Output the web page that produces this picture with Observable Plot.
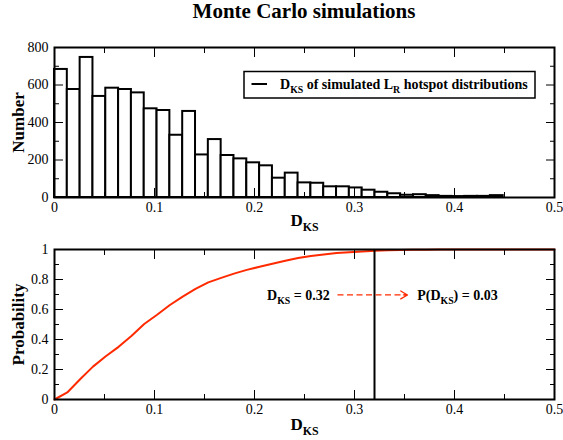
<!DOCTYPE html>
<html><head><meta charset="utf-8">
<script src="https://cdn.jsdelivr.net/npm/d3@7"></script>
<script src="https://cdn.jsdelivr.net/npm/@observablehq/plot@0.6"></script>
<style>
body{margin:0;background:#fff;}
#wrap{position:relative;width:563px;height:440px;font-family:"Liberation Serif","Times New Roman",serif;color:#000;background:#fff;overflow:hidden;}
#title{position:absolute;left:54px;width:500px;top:1px;text-align:center;font-size:21px;font-weight:bold;line-height:21px;}
#top,#bot{position:absolute;left:0;}
#top{top:30px;z-index:2;}
#bot{top:230px;z-index:1;}
svg{display:block;}
</style>
</head><body>
<div id="wrap">
  <div id="title">Monte Carlo simulations</div>
  <div id="top"></div>
  <div id="bot"></div>
</div>
<script>
// ---- data ----
const binWidth = 0.01282;
const counts = [683,576,747,539,583,576,558,473,464,332,459,227,309,224,206,185,169,103,130,78,76,57,57,51,39,28,20,12,15,10,6,5,6,6,10];
const cdfX = [0,0.0128,0.0256,0.0385,0.0513,0.0641,0.0769,0.0897,0.1026,0.1154,0.1282,0.141,0.1538,0.1667,0.1795,0.1923,0.2051,0.2179,0.2308,0.2436,0.2564,0.2692,0.2821,0.2949,0.3077,0.3205,0.3333,0.3462,0.359,0.3718,0.3846,0.4,0.45,0.5];
const cdfY = [0,0.047,0.135,0.219,0.288,0.351,0.424,0.503,0.565,0.63,0.686,0.737,0.781,0.811,0.839,0.864,0.885,0.905,0.925,0.943,0.957,0.967,0.977,0.982,0.987,0.992,0.995,0.997,0.998,0.999,1,1,1,1];
const dKs = 0.32;
const pValue = 0.03;
const xMajor = [0,0.1,0.2,0.3,0.4,0.5];
const xMinor = [0.05,0.15,0.25,0.35,0.45];
const yTopMajor = [0,200,400,600,800];
const yTopMinor = [100,300,500,700];
const yBotMajor = [0,0.2,0.4,0.6,0.8,1];
const yBotMinor = [0.1,0.3,0.5,0.7,0.9];
const legendLabel = "D_{KS} of simulated L_{R} hotspot distributions";
const xLabel = "D_{KS}";
const yTopLabel = "Number";
const yBotLabel = "Probability";
const annLeft = `D_{KS} = ${dKs}`;
const annRight = `P(D_{KS}) = ${pValue}`;

const RED = "#ff2a00";
const FONT = "'Liberation Serif','Times New Roman',serif";

const bars = counts.map((c, i) => ({x1: i * binWidth, x2: (i + 1) * binWidth, y: c}));
const curve = cdfX.map((x, i) => ({x, y: cdfY[i]}));

function frameTicks(yMaj, yMin) {
  const m = [];
  for (const a of ["bottom", "top"]) {
    m.push(Plot.axisX({ticks: xMajor, anchor: a, tickSize: -9, fill: "none", label: null}));
    m.push(Plot.axisX({ticks: xMinor, anchor: a, tickSize: -5, fill: "none", label: null}));
  }
  for (const a of ["left", "right"]) {
    m.push(Plot.axisY({ticks: yMaj, anchor: a, tickSize: -9, fill: "none", label: null}));
    m.push(Plot.axisY({ticks: yMin, anchor: a, tickSize: -5, fill: "none", label: null}));
  }
  m.push(Plot.axisX({ticks: xMajor, anchor: "bottom", tickSize: 0, tickPadding: 5, tickFormat: d => String(d), label: null, fontSize: 14}));
  m.push(Plot.axisY({ticks: yMaj, anchor: "left", tickSize: 0, tickPadding: 6, tickFormat: d => String(d), label: null, fontSize: 14}));
  return m;
}

function subscripts(svg) {
  d3.select(svg).selectAll("text").each(function () {
    const s = this.textContent;
    if (!s.includes("_{")) return;
    const el = d3.select(this);
    el.selectAll("*").remove();
    el.text(null);
    const parts = s.split(/(_\{[^}]*\})/);
    let low = false;
    for (const p of parts) {
      if (!p) continue;
      const m = p.match(/^_\{(.*)\}$/);
      if (m) {
        el.append("tspan").attr("dy", "0.43em").attr("font-size", "0.7em").text(m[1]);
        low = true;
      } else {
        const t = el.append("tspan").text(p);
        if (low) { t.attr("dy", "-0.3em"); low = false; }
      }
    }
  });
}

const style = {fontFamily: FONT, fontSize: "14px", color: "black", background: "transparent", overflow: "visible"};

const topPlot = Plot.plot({
  width: 563, height: 200,
  marginLeft: 54, marginRight: 9, marginTop: 17, marginBottom: 33,
  style,
  x: {domain: [0, 0.5]},
  y: {domain: [0, 800]},
  marks: [
    Plot.rectY(bars, {x1: "x1", x2: "x2", y: "y", fill: "white", stroke: "black", strokeWidth: 2, inset: 0}),
    ...frameTicks(yTopMajor, yTopMinor),
    Plot.text([xLabel], {text: d => d, frameAnchor: "bottom", dy: 28, textAnchor: "middle", fontWeight: "bold", fontSize: 17}),
    Plot.text([yTopLabel], {text: d => d, frameAnchor: "left", rotate: -90, dx: -36, textAnchor: "middle", fontWeight: "bold", fontSize: 17}),
    Plot.frame({stroke: "black", strokeWidth: 2})
  ]
});

// legend box (decoration)
{
  const g = d3.select(topPlot).append("g");
  g.append("rect").attr("x", 244).attr("y", 41.5).attr("width", 291).attr("height", 26.5)
    .attr("fill", "white").attr("stroke", "black").attr("stroke-width", 1.5);
  g.append("line").attr("x1", 251.5).attr("x2", 267).attr("y1", 54).attr("y2", 54)
    .attr("stroke", "black").attr("stroke-width", 2);
  g.append("text").attr("x", 280).attr("y", 58.5).attr("font-size", 14).attr("font-weight", "bold")
    .attr("text-anchor", "start").attr("fill", "black").text(legendLabel);
}
subscripts(topPlot);
document.getElementById("top").append(topPlot);

const aStart = dKs - 0.037, aEnd = dKs + 0.033;
const botPlot = Plot.plot({
  width: 563, height: 210,
  marginLeft: 54, marginRight: 9, marginTop: 19, marginBottom: 41,
  style,
  x: {domain: [0, 0.5]},
  y: {domain: [0, 1]},
  marks: [
    Plot.line(curve, {x: "x", y: "y", stroke: RED, strokeWidth: 2}),
    Plot.ruleX([dKs], {y1: 0, y2: 1, stroke: "black", strokeWidth: 2}),
    Plot.link([dKs], {x1: () => aStart, x2: () => aEnd - 0.001, y1: 0.697, y2: 0.697, stroke: RED, strokeWidth: 1.3, strokeDasharray: "6,3.5"}),
    Plot.arrow([dKs], {x1: () => aStart, x2: () => aEnd, y1: 0.697, y2: 0.697, stroke: RED, strokeWidth: 1.3, headLength: 9, insetStart: 66}),
    Plot.text([annLeft], {text: d => d, x: dKs - 0.0447, y: 0.695, textAnchor: "end", fontWeight: "bold", fontSize: 14}),
    Plot.text([annRight], {text: d => d, x: dKs + 0.0427, y: 0.695, textAnchor: "start", fontWeight: "bold", fontSize: 14}),
    ...frameTicks(yBotMajor, yBotMinor),
    Plot.text([xLabel], {text: d => d, frameAnchor: "bottom", dy: 30, textAnchor: "middle", fontWeight: "bold", fontSize: 17}),
    Plot.text([yBotLabel], {text: d => d, frameAnchor: "left", rotate: -90, dx: -36, textAnchor: "middle", fontWeight: "bold", fontSize: 17}),
    Plot.frame({stroke: "black", strokeWidth: 2})
  ]
});
subscripts(botPlot);
document.getElementById("bot").append(botPlot);
</script>
</body></html>
